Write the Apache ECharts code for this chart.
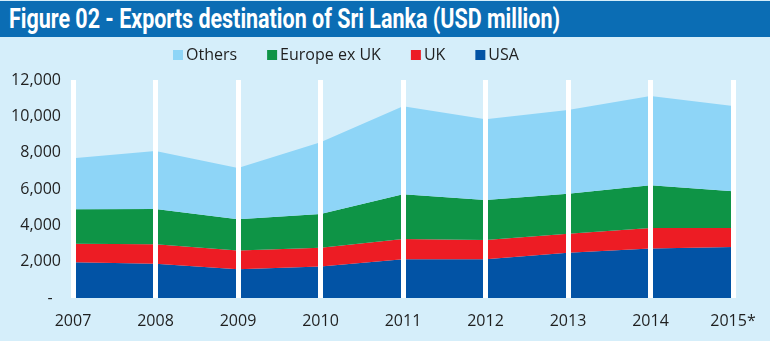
<!DOCTYPE html>
<html>
<head>
<meta charset="utf-8">
<script src="https://cdn.jsdelivr.net/npm/echarts@6/dist/echarts.min.js"></script>
<style>
html,body{margin:0;padding:0;background:#d5eefa;}
#wrap{position:relative;width:770px;height:341px;background:#d5eefa;overflow:hidden;}
#bar{position:absolute;left:0;top:1px;width:770px;height:36px;background:#0b6db4;}
#title{position:absolute;left:9px;top:2px;color:#fff;font-family:Roboto,"DejaVu Sans",sans-serif;font-weight:bold;font-size:27px;line-height:32px;white-space:nowrap;transform-origin:0 50%;}
#chart{position:absolute;left:0;top:0;width:770px;height:341px;}
</style>
</head>
<body>
<div id="wrap">
<div id="bar"><div id="title">Figure 02 - Exports destination of Sri Lanka (USD million)</div></div>
<div id="chart"></div>
</div>
<script>
const categories = ['2007','2008','2009','2010','2011','2012','2013','2014','2015*'];
const usa = [1970, 1880, 1580, 1730, 2130, 2130, 2490, 2720, 2810];
const uk = [1010, 1080, 1030, 1030, 1120, 1065, 1050, 1135, 1045];
const europeExUk = [1910, 1945, 1730, 1870, 2460, 2200, 2200, 2350, 2020];
const others = [2800, 3190, 2810, 3950, 4840, 4440, 4610, 4920, 4700];
const yTicks = [0, 2000, 4000, 6000, 8000, 10000, 12000];

// condense the title to the reference's narrow width
(function(){
  const t = document.getElementById('title');
  const w = t.getBoundingClientRect().width;
  const target = 551;
  if (w > 0) t.style.transform = 'scaleX(' + (target / w) + ')';
})();

const chart = echarts.init(document.getElementById('chart'), null, {renderer:'canvas'});
const font = '"Open Sans", sans-serif';
function mk(name, data, color){
  return {name:name, type:'line', stack:'total', data:data, symbol:'none', smooth:false,
    lineStyle:{width:0, color:color}, itemStyle:{color:color}, areaStyle:{color:color, opacity:1}, z:2};
}
chart.setOption({
  backgroundColor:'transparent',
  animation:false,
  legend:{
    data:['Others','Europe ex UK','UK','USA'],
    top:42, left:168, itemWidth:10, itemHeight:10, icon:'rect', itemGap:30,
    textStyle:{fontFamily:font, fontSize:16, color:'#1f1f1f', padding:[0,0,0,-2]}
  },
  grid:{left:73, right:37, top:80, bottom:43},
  xAxis:{
    type:'category', data:categories, boundaryGap:false, z:5,
    axisLine:{show:false}, axisTick:{show:false},
    axisLabel:{fontFamily:font, fontSize:16, color:'#1f1f1f', margin:15},
    splitLine:{show:true, lineStyle:{color:'#ffffff', width:5}}
  },
  yAxis:{
    type:'value', min:yTicks[0], max:yTicks[yTicks.length-1], interval:2000,
    axisLine:{show:false}, axisTick:{show:false}, splitLine:{show:false},
    axisLabel:{fontFamily:font, fontSize:16, color:'#1f1f1f', margin:12,
      formatter:function(v){ return v===0 ? '-  ' : v.toLocaleString('en-US'); }}
  },
  series:[
    mk('USA', usa, '#0253a5'),
    mk('UK', uk, '#ed1c24'),
    mk('Europe ex UK', europeExUk, '#0e9446'),
    mk('Others', others, '#8ed5f7')
  ]
});
</script>
</body>
</html>
